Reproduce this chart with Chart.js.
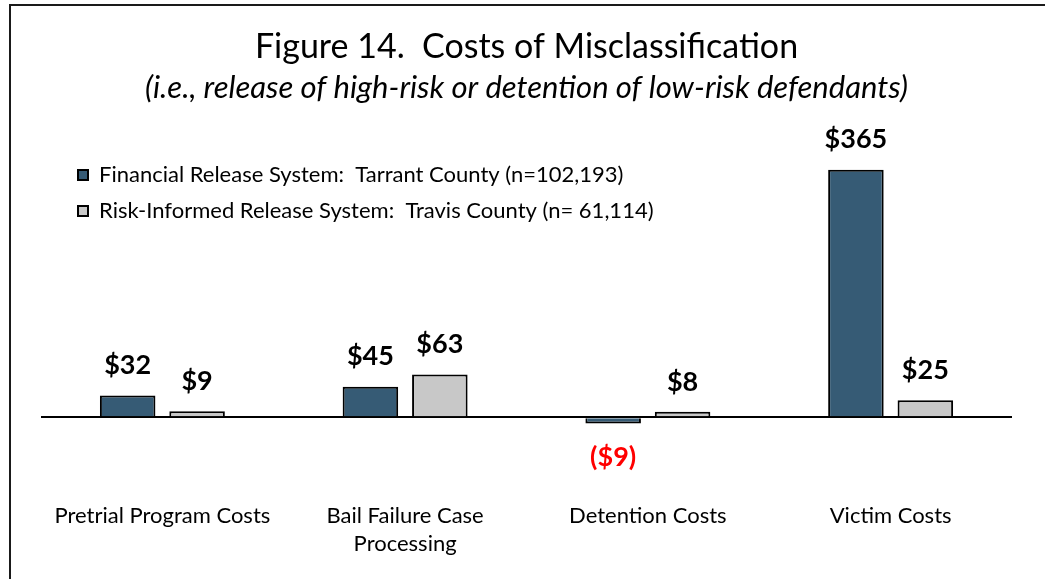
<!DOCTYPE html>
<html>
<head>
<meta charset="utf-8">
<script src="https://cdn.jsdelivr.net/npm/chart.js@4.4.1/dist/chart.umd.min.js"></script>
<style>
  html, body { margin: 0; padding: 0; background: #fff; overflow: hidden; }
  #wrap { position: relative; width: 1045px; height: 579px; }
  #frame { position: absolute; left: 9px; top: 4px; width: 1100px; height: 700px; border: 2px solid #1a1a1a; box-sizing: border-box; }
  canvas { position: absolute; left: 0; top: 0; }
</style>
</head>
<body>
<div id="wrap">
  <div id="frame"></div>
  <canvas id="costChart" width="1045" height="579"></canvas>
</div>
<script>
// 데이터
const categories = [
    'Pretrial Program Costs',
    ['Bail Failure Case', 'Processing'],
    'Detention Costs',
    'Victim Costs'
];
const seriesNames = [
    'Financial Release System:  Tarrant County (n=102,193)',
    'Risk-Informed Release System:  Travis County (n= 61,114)'
];
const tarrantValues = [32, 45, -9, 365];
const travisValues = [9, 63, 8, 25];

const FONT = 'Lato, "Open Sans", sans-serif';

// 막대 위/아래 금액 표시
const valueLabels = {
    id: 'valueLabels',
    afterDatasetsDraw(chart) {
        const ctx = chart.ctx;
        ctx.save();
        ctx.font = 'bold 27px ' + FONT;
        ctx.textAlign = 'center';
        ctx.textBaseline = 'middle';
        chart.data.datasets.forEach((ds, di) => {
            const meta = chart.getDatasetMeta(di);
            meta.data.forEach((bar, i) => {
                const v = ds.data[i];
                if (v < 0) {
                    ctx.fillStyle = '#ff0000';
                    ctx.fillText('($' + Math.abs(v) + ')', bar.x, bar.y + 34);
                } else {
                    ctx.fillStyle = '#000';
                    ctx.fillText('$' + v, bar.x, bar.y - 30);
                }
            });
        });
        ctx.restore();
    }
};

// 범례 위치 보정
const legendShift = {
    id: 'legendShift',
    afterLayout(chart) {
        chart.legend.left = chart.chartArea.left + 23;
        chart.legend.top = chart.chartArea.top + 4;
    }
};

new Chart(document.getElementById('costChart'), {
    type: 'bar',
    data: {
        labels: categories,
        datasets: [{
            label: seriesNames[0],
            data: tarrantValues,
            backgroundColor: '#365b75',
            borderColor: '#000',
            borderWidth: 2
        }, {
            label: seriesNames[1],
            data: travisValues,
            backgroundColor: '#c8c8c8',
            borderColor: '#000',
            borderWidth: 2
        }]
    },
    options: {
        responsive: false,
        animation: false,
        categoryPercentage: 0.572,
        barPercentage: 0.8,
        layout: { padding: { left: 41, right: 33, top: 0, bottom: 4 } },
        plugins: {
            title: {
                display: true,
                text: 'Figure 14.  Costs of Misclassification',
                color: '#000',
                font: { family: FONT, size: 34, weight: 'normal' },
                padding: { top: 27, bottom: 0 }
            },
            subtitle: {
                display: true,
                text: '(i.e., release of high-risk or detention of low-risk defendants)',
                color: '#000',
                font: { family: FONT, size: 31, style: 'italic' },
                padding: { top: 2, bottom: 39 }
            },
            legend: {
                position: 'chartArea',
                align: 'start',
                labels: {
                    color: '#000',
                    font: { family: FONT, size: 22 },
                    boxWidth: 10,
                    boxHeight: 10,
                    padding: 14
                }
            },
            tooltip: { enabled: false }
        },
        scales: {
            x: {
                grid: { display: false, drawTicks: false },
                border: { display: false },
                ticks: {
                    color: '#000',
                    padding: 17,
                    maxRotation: 0,
                    font: { family: FONT, size: 22, lineHeight: 1.27 }
                }
            },
            y: {
                min: -100,
                max: 400,
                border: { display: false },
                grid: {
                    drawTicks: false,
                    lineWidth: 2,
                    color: (c) => c.tick && c.tick.value === 0 ? '#000' : 'rgba(0,0,0,0)'
                },
                ticks: { display: false, stepSize: 100 }
            }
        }
    },
    plugins: [valueLabels, legendShift]
});
</script>
</body>
</html>
